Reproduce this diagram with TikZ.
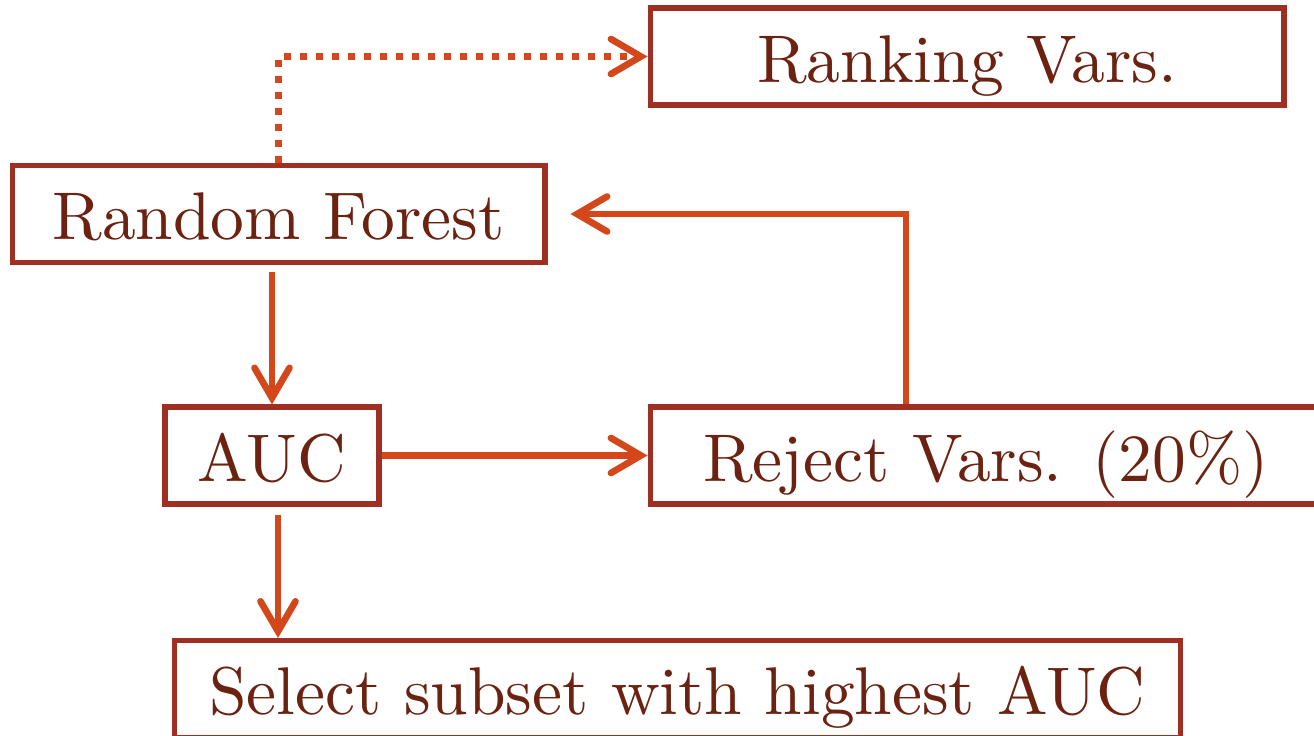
\documentclass[tikz,border=0pt]{standalone}
\usepackage{fontspec}
\usepackage{tikz}
\usetikzlibrary{arrows.meta,positioning,calc}
\usepackage{xcolor}
\newfontfamily\stagefont{lmroman10-regular}[Extension=.otf]
\definecolor{rfBorder}{HTML}{9E2F22}
\definecolor{rfFlow}{HTML}{D4471A}
\definecolor{rfText}{HTML}{6B2210}
\tikzset{
    % boxes and flows
    stagebox/.style={rectangle,draw=rfBorder,line width=2.9pt,fill=white,inner sep=0pt,
        minimum height=1.94cm,text height=1.2cm,text depth=0.18cm,
        text=rfText,font=\stagefont\fontsize{38.4}{43}\selectfont},
    flow/.style={-{Straight Barb[length=0.6cm,width=0.7cm,line cap=round]},line width=3.8pt,rfFlow},
    dotflow/.style={flow,dash pattern=on 0.14cm off 0.18cm}
}

\begin{document}
\begin{tikzpicture}[x=0.02cm,y=-0.02cm]
\useasboundingbox (0,0) rectangle (1314,735);

% stages
\node[stagebox,minimum width=12.68cm] at (967,56.5) (rank) {Ranking Vars.};
\node[stagebox,minimum width=10.66cm] at (278.5,214) (forest) {Random Forest};
\node[stagebox,minimum width=4.28cm] at (272,455.5) (auc) {AUC};
\node[stagebox,minimum width=13.44cm] at (986,455.5) (reject) {Reject Vars. (20\%)};
\node[stagebox,minimum width=20.14cm] at (677.5,689) (select) {Select subset with highest AUC};

% connectors
\draw[dotflow] (forest.north) |- (rank.west);
\draw[flow,shorten <=0.14cm] (auc.north |- forest.south) -- (auc.north);
\draw[flow] (auc.east) -- (reject.west);
\draw[flow,shorten >=0.46cm] ([xshift=-1.6cm]reject.north) |- (forest.east);
\draw[flow,shorten <=0.16cm] ([xshift=0.12cm]auc.south) -- ([xshift=0.12cm]auc.south |- select.north);

\end{tikzpicture}
\end{document}
